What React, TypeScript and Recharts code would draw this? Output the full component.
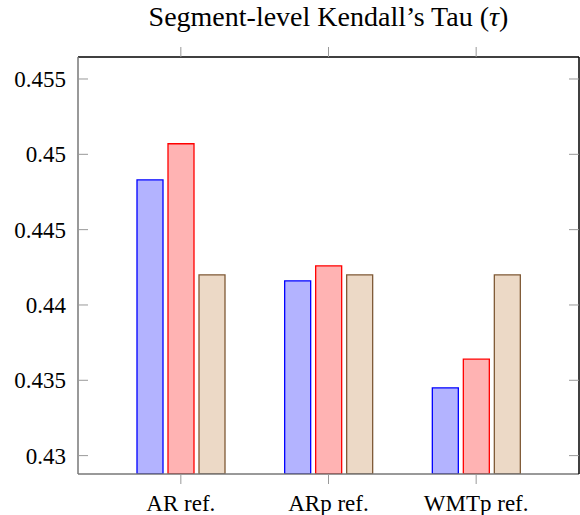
import { BarChart, Bar, XAxis, YAxis, ReferenceLine } from 'recharts';

const categories = ['AR ref.', 'ARp ref.', 'WMTp ref.'];
const blueValues = [0.4483, 0.4416, 0.4345];
const redValues = [0.4507, 0.4426, 0.4364];
const brownValues = [0.442, 0.442, 0.442];
const yTicks = [0.43, 0.435, 0.44, 0.445, 0.45, 0.455];
const yDomain = [0.42878, 0.45646];

const data = categories.map((name, i) => ({
  name,
  blue: blueValues[i],
  red: redValues[i],
  brown: brownValues[i],
}));

const serif = 'Liberation Serif, DejaVu Serif, serif';
const plotTop = 57;

// tick marks only, no labels (right frame)
const noLabel = () => <g />;

// bottom category label + matching tick mark sticking out above the top frame
function CategoryTick(props: any) {
  const { x, y, payload } = props;
  return (
    <g>
      <path d={`M${x},${plotTop - 10}V${plotTop}`} stroke="#999" strokeWidth={1} />
      <text x={x} y={y} dy="0.71em" textAnchor="middle" fontSize={23} fill="#000" fontFamily={serif}>
        {payload.value}
      </text>
    </g>
  );
}

export default function App() {
  const tickFont = { fontSize: 23, fill: '#000', fontFamily: serif };

  return (
    <div style={{ position: 'relative', width: 580, height: 515, fontFamily: serif }}>
      <style>{'body{margin:0}'}</style>
      <div
        style={{
          position: 'absolute',
          left: 78,
          top: 3,
          width: 501,
          textAlign: 'center',
          fontSize: 28,
          lineHeight: '28px',
          color: '#000',
          fontFamily: serif,
        }}
      >
        Segment-level Kendall’s Tau (<i>τ</i>)
      </div>
      <BarChart
        width={580}
        height={515}
        data={data}
        margin={{ top: plotTop, right: 0, left: 0, bottom: 0 }}
        barSize={26}
        barGap={5}
      >
        <XAxis
          dataKey="name"
          height={41}
          padding={{ left: 29, right: 29 }}
          axisLine={{ stroke: '#777', strokeWidth: 1.5 }}
          tickLine={{ stroke: '#999' }}
          tickSize={10}
          tickMargin={11}
          tick={CategoryTick}
          interval={0}
        />
        <YAxis
          type="number"
          width={78}
          domain={yDomain}
          allowDataOverflow
          ticks={yTicks}
          axisLine={{ stroke: '#777', strokeWidth: 1.5 }}
          tickLine={{ stroke: '#999' }}
          tickSize={-10}
          tickMargin={22}
          tick={tickFont}
        />
        <YAxis
          yAxisId="right"
          orientation="right"
          type="number"
          width={1}
          domain={yDomain}
          allowDataOverflow
          ticks={yTicks}
          axisLine={{ stroke: '#000', strokeWidth: 1.5 }}
          tickLine={{ stroke: '#999' }}
          tickSize={-10}
          tick={noLabel}
        />
        <Bar dataKey="blue" fill="#b3b3ff" stroke="#0000ff" strokeWidth={1.3} isAnimationActive={false} />
        <Bar dataKey="red" fill="#ffb3b3" stroke="#ff0000" strokeWidth={1.3} isAnimationActive={false} />
        <Bar dataKey="brown" fill="#ecd9c6" stroke="#7f5a36" strokeWidth={1.3} isAnimationActive={false} />
        <ReferenceLine y={yDomain[1]} stroke="#000" strokeWidth={1.5} ifOverflow="visible" />
      </BarChart>
    </div>
  );
}
